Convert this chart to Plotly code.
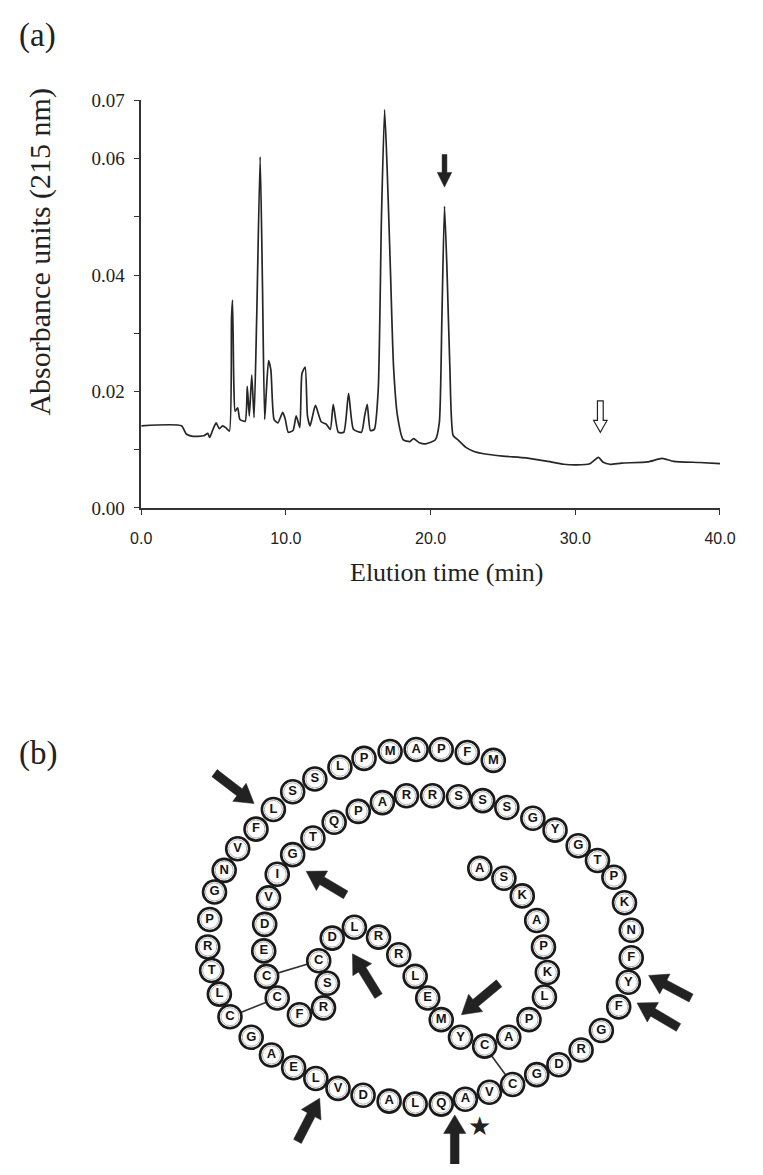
import math
import plotly.graph_objects as go

W, H = 763, 1175

# ---------------- data: chromatogram (a) ----------------
time_min = [0.0, 2.78, 3.11, 3.56, 4.33, 4.6, 4.73, 4.96, 5.18, 5.4, 5.62, 5.84, 6.09,
            6.24, 6.31, 6.4, 6.49, 6.67, 6.82, 7.18, 7.33, 7.47, 7.64, 7.8, 7.98, 8.22,
            8.38, 8.53, 8.64, 8.8, 8.96, 9.18, 9.44, 9.78, 9.96, 10.16, 10.49, 10.71,
            10.96, 11.11, 11.33, 11.49, 11.67, 12.04, 12.44, 12.78, 13.07, 13.27, 13.62,
            14.0, 14.33, 14.67, 15.22, 15.44, 15.62, 15.84, 16.11, 16.38, 16.6, 16.82,
            17.0, 17.22, 17.44, 17.71, 18.11, 18.56, 18.82, 19.22, 19.67, 20.33, 20.6,
            20.78, 20.96, 21.13, 21.33, 21.56, 21.89, 22.44, 23.0, 23.67, 25.0, 26.6,
            28.1, 29.2, 30.1, 31.0, 31.6, 31.9, 32.4, 33.2, 35.0, 36.0, 36.8, 38.6, 40.0]
absorbance = [0.0141, 0.0141, 0.0127, 0.0123, 0.0124, 0.0128, 0.0121, 0.0135, 0.0146,
              0.0136, 0.0141, 0.0138, 0.0132, 0.0326, 0.0357, 0.0214, 0.0166, 0.0172,
              0.0152, 0.0149, 0.0209, 0.0158, 0.0228, 0.0155, 0.0326, 0.0603, 0.0383,
              0.0152, 0.0197, 0.0253, 0.0237, 0.0152, 0.0146, 0.0164, 0.0152, 0.0130,
              0.0133, 0.0158, 0.0138, 0.0231, 0.0242, 0.0158, 0.0141, 0.0176, 0.0148,
              0.0144, 0.0135, 0.0178, 0.0130, 0.0130, 0.0197, 0.0135, 0.0130, 0.0158,
              0.0178, 0.0133, 0.0135, 0.0203, 0.0495, 0.0684, 0.0580, 0.0411, 0.0242,
              0.0158, 0.0117, 0.0114, 0.0119, 0.0112, 0.0110, 0.0117, 0.0146, 0.0326,
              0.0518, 0.0411, 0.0242, 0.0124, 0.0117, 0.0104, 0.0097, 0.0093, 0.0089,
              0.0086, 0.0080, 0.0075, 0.0074, 0.0076, 0.0087, 0.0079, 0.0075, 0.0077,
              0.0079, 0.0085, 0.0080, 0.0078, 0.0076]
x_tick_vals = [0, 10, 20, 30, 40]
x_tick_text = ["0.0", "10.0", "20.0", "30.0", "40.0"]
y_tick_vals = [0.0, 0.01, 0.02, 0.03, 0.04, 0.05, 0.06, 0.07]
y_tick_text = ["0.00", "", "0.02", "", "0.04", "", "0.06", "0.07"]
# marked fractions: (time, tip value, tail value)
solid_arrow_mark = (20.96, 0.0551, 0.0607)
open_arrow_mark = (31.73, 0.0130, 0.0184)

# ---------------- data: sequence diagram (b) ----------------
sequence = list("MFPAMPLSSLFVN"
                "GPRTLCGAELVDALQAVCGDRGFYFNKPTGYGSSSRRAPQTGIVDECCFRSCDLRRLEMYCAPLKPAKSA")
disulfide_pairs = [(19, 61), (60, 65), (31, 74)]   # 1-based residue numbers
starred_residue = 29

# ---------------- layout geometry (pixels) ----------------
AX_L, AX_R, AX_T, AX_B = 135, 735, 92, 507
X_MAX, Y_MAX = 40.0, 0.07

# residue circle centres along the drawn chain (pixel layout)
chain_xy = [(500, 764), (473, 756), (446, 753), (420, 753), (393, 755), (366, 762), (341, 771),
            (315, 783), (292, 796), (272, 814), (254, 834), (235, 854), (221, 876), (211, 898),
            (206, 926), (204, 954), (208, 978), (216, 1002), (227, 1025), (249, 1046),
            (270, 1064), (293, 1077), (316, 1088), (339, 1098), (365, 1105), (392, 1111),
            (419, 1114), (446, 1114), (471, 1109), (496, 1102), (520, 1094), (545, 1084),
            (568, 1074), (591, 1059), (612, 1039), (630, 1015), (640, 990), (643, 965),
            (643, 937), (636, 909), (625, 883), (608, 866), (588, 851), (564, 835), (541, 823),
            (514, 812), (489, 805), (464, 801), (437, 800), (410, 800), (385, 807), (360, 816),
            (335, 827), (313, 843), (292, 860), (276, 880), (267, 904), (263, 931), (262, 958),
            (265, 984), (276, 1006), (299, 1023), (324, 1016), (328, 991), (319, 968),
            (333, 945), (356, 934), (381, 944), (402, 962), (419, 984), (432, 1006),
            (446, 1028), (466, 1046), (491, 1055), (516, 1046), (537, 1028), (553, 1005),
            (556, 980), (552, 954), (545, 927), (530, 902), (511, 884), (486, 874)]

# cleavage arrows of (b): (tail, tip)
seq_arrows = [((211, 777), (252, 808)), ((347, 901), (306, 877)), ((381, 1004), (354, 961)),
              ((506, 991), (467, 1023)), ((705, 1006), (661, 983)), ((692, 1036), (649, 1011)),
              ((297, 1152), (320, 1108)), ((460, 1175), (460, 1125))]


def data_to_px(t, v):
    return (AX_L + t / X_MAX * (AX_R - AX_L), AX_B - v / Y_MAX * (AX_B - AX_T))


def arrow_path(tail, tip, shaft, head_w, head_len):
    dx, dy = tip[0] - tail[0], tip[1] - tail[1]
    L = math.hypot(dx, dy)
    ux, uy = dx / L, dy / L
    nx, ny = -uy, ux
    bx, by = tip[0] - ux * head_len, tip[1] - uy * head_len
    pts = [(tail[0] + nx * shaft / 2, tail[1] + ny * shaft / 2),
           (bx + nx * shaft / 2, by + ny * shaft / 2),
           (bx + nx * head_w / 2, by + ny * head_w / 2),
           tip,
           (bx - nx * head_w / 2, by - ny * head_w / 2),
           (bx - nx * shaft / 2, by - ny * shaft / 2),
           (tail[0] - nx * shaft / 2, tail[1] - ny * shaft / 2)]
    return "M" + " L".join(f"{p[0]:.2f},{p[1]:.2f}" for p in pts) + " Z"


def paper(px, py):
    return px / W, 1 - py / H


fig = go.Figure()

# chromatogram
fig.add_trace(go.Scatter(x=time_min, y=absorbance, mode="lines",
                         line=dict(color="#262626", width=1.7, shape="spline", smoothing=0.55),
                         xaxis="x", yaxis="y", hoverinfo="skip"))

# disulfide bonds
bx, by = [], []
for a, b in disulfide_pairs:
    bx += [chain_xy[a - 1][0], chain_xy[b - 1][0], None]
    by += [chain_xy[a - 1][1], chain_xy[b - 1][1], None]
fig.add_trace(go.Scatter(x=bx, y=by, mode="lines", line=dict(color="#333", width=1.7),
                         xaxis="x2", yaxis="y2", hoverinfo="skip"))

cx = [p[0] for p in chain_xy]
cy = [p[1] for p in chain_xy]
fig.add_trace(go.Scatter(x=cx, y=cy, mode="markers",
                         marker=dict(size=23, color="white",
                                     line=dict(color="#1a1a1a", width=2.6)),
                         xaxis="x2", yaxis="y2", hoverinfo="skip"))
fig.add_trace(go.Scatter(x=cx, y=cy, mode="markers+text", text=sequence,
                         textposition="middle center",
                         textfont=dict(family="Liberation Sans", size=13, color="#151515",
                                       weight="bold"),
                         marker=dict(size=18, color="rgba(255,255,255,0)",
                                     line=dict(color="#b0b0b0", width=1)),
                         xaxis="x2", yaxis="y2", hoverinfo="skip"))

shapes = []
for tail, tip in seq_arrows:
    shapes.append(dict(type="path", xref="x2", yref="y2",
                       path=arrow_path(tail, tip, 9, 23, 19),
                       fillcolor="#222", line=dict(color="#222", width=0.5)))
t, v_tip, v_tail = solid_arrow_mark
shapes.append(dict(type="path", xref="x2", yref="y2",
                   path=arrow_path(data_to_px(t, v_tail), data_to_px(t, v_tip), 5, 15, 15),
                   fillcolor="#222", line=dict(color="#222", width=0.5)))
t, v_tip, v_tail = open_arrow_mark
shapes.append(dict(type="path", xref="x2", yref="y2",
                   path=arrow_path(data_to_px(t, v_tail), data_to_px(t, v_tip), 6, 14, 12),
                   fillcolor="white", line=dict(color="#222", width=1.2)))

serif = "Liberation Serif"
annotations = []
for txt, (px, py), size, ang in [("(a)", (27, 26), 33, 0),
                                  ("(b)", (28, 757), 33, 0),
                                  ("Absorbance units (215 nm)", (30, 246), 30, -90),
                                  ("Elution time (min)", (452, 573), 26, 0)]:
    x, y = paper(px, py)
    annotations.append(dict(text=txt, x=x, y=y, xref="paper", yref="paper",
                            showarrow=False, xanchor="center", yanchor="middle",
                            textangle=ang, font=dict(family=serif, size=size, color="#222")))
sx, sy = chain_xy[starred_residue - 1]
x, y = paper(sx + 15, sy + 27)
annotations.append(dict(text="★", x=x, y=y, xref="paper", yref="paper", showarrow=False,
                        xanchor="center", yanchor="middle",
                        font=dict(family="DejaVu Sans", size=26, color="#222")))

fig.update_layout(
    width=W, height=H, margin=dict(l=0, r=0, t=0, b=0),
    paper_bgcolor="white", plot_bgcolor="rgba(0,0,0,0)", showlegend=False,
    xaxis=dict(domain=[AX_L / W, AX_R / W], range=[0, X_MAX], anchor="y",
               tickvals=x_tick_vals, ticktext=x_tick_text, showline=True,
               linecolor="#333", linewidth=1.5, ticks="outside", ticklen=5,
               tickcolor="#333", tickwidth=1.3, showgrid=False, zeroline=False,
               ticklabelstandoff=10,
               tickfont=dict(family="Liberation Sans", size=16, color="#222")),
    yaxis=dict(domain=[1 - AX_B / H, 1 - AX_T / H], range=[0, Y_MAX], anchor="x",
               tickvals=y_tick_vals, ticktext=y_tick_text, showline=True,
               linecolor="#333", linewidth=1.5, ticks="outside", ticklen=5,
               tickcolor="#333", tickwidth=1.3, showgrid=False, zeroline=False,
               ticklabelstandoff=6,
               tickfont=dict(family=serif, size=19, color="#222")),
    xaxis2=dict(domain=[0, 1], range=[0, W], anchor="y2", visible=False, fixedrange=True),
    yaxis2=dict(domain=[0, 1], range=[H, 0], anchor="x2", visible=False, fixedrange=True),
    shapes=shapes, annotations=annotations,
)

fig.write_html("out.html")
